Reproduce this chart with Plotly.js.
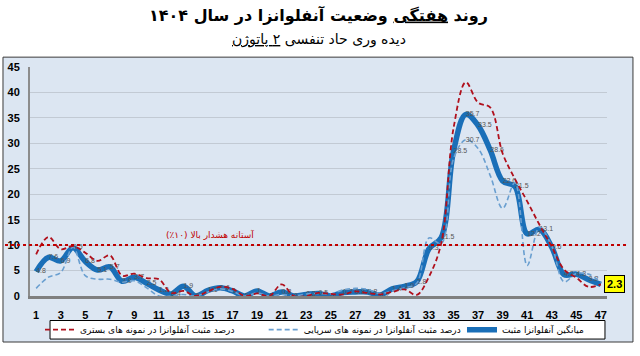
<!DOCTYPE html>
<html><head><meta charset="utf-8">
<script src="https://cdn.plot.ly/plotly-3.0.1.min.js"></script>
<style>html,body{margin:0;padding:0;background:#fff}#chart{width:640px;height:356px}</style>
</head><body><div id="chart"></div>
<script>
// Week numbers (categories)
const weeks = [1,2,3,4,5,6,7,8,9,10,11,12,13,14,15,16,17,18,19,20,21,22,23,24,25,26,27,28,29,30,31,32,33,34,35,36,37,38,39,40,41,42,43,44,45,46,47];
// Average influenza positivity (%)
const avgPositive = [4.8,7.6,6.9,9.5,6.8,5.1,5.7,2.9,3.7,2.5,1.2,0.4,1.9,0,1.1,1.6,1,0,1,0,0.8,0,0.3,0.5,0,0.7,0.8,0.8,0.2,1.4,1.9,2.8,9.3,11.5,28.5,35.7,33.5,28.6,22.6,21.5,12.2,13.1,9.6,4.2,4.3,3.2,2.3];
// Positivity in outpatient samples (%)
const outpatientPositive = [1.5,3.7,4.6,9.6,4.0,3.3,3.3,2.7,3.0,1.6,0,0,0.3,0,0.8,1.4,0.9,0,0.6,0,0.3,0,0.4,0.5,0.4,1.2,1.5,1.3,0.5,1.0,1.6,2.5,11.4,10.3,27,30.7,29,23.6,17.2,22.3,6.0,13.5,9.8,2.8,4.4,4.3,2.6];
// Positivity in inpatient (hospitalized) samples (%)
const inpatientPositive = [8.2,11.6,9.2,9.8,8.5,6.9,8.0,4.0,4.4,3.5,3.3,0.6,1.0,0,0.9,1.8,1.4,0,0.5,0,2.3,0,0,0.6,0.4,0.3,0.9,0.6,0.3,0.8,1.3,0.2,3.8,10.4,33,42,38,37,28,23,18.6,14,9.7,5.2,3.6,1.8,2.3];
const threshold = 10;
const xTickVals = [1,3,5,7,9,11,13,15,17,19,21,23,25,27,29,31,33,35,37,39,41,43,45,47];
const yTickVals = [0,5,10,15,20,25,30,35,40,45];
const seriesNames = ['میانگین آنفلوانزا مثبت','درصد مثبت آنفلوانزا در نمونه های سرپایی','درصد مثبت آنفلوانزا در نمونه های بستری'];
const labelledOutpatientWeeks = [36];
const titleText = '<b>روند <u>هفتگی</u> وضعیت آنفلوانزا در سال ۱۴۰۴</b>';
const subtitleText = 'دیده وری حاد تنفسی <u>۲ پاتوژن</u>';
const thresholdText = 'آستانه هشدار بالا (۱۰٪)\u200F';

const lastIdx = avgPositive.length - 1;
const avgLabels = avgPositive.map((v,i) => i === lastIdx ? '' : String(v));
const outLabels = outpatientPositive.map((v,i) => labelledOutpatientWeeks.includes(weeks[i]) ? String(v) : '');

const AR = 'DejaVu Sans';
const NUM = 'Liberation Sans';
const labelFont = {family: NUM, size: 7, color: '#555555'};

const traces = [
  {x: weeks, y: avgPositive, name: seriesNames[0], type: 'scatter', mode: 'lines+text',
   text: avgLabels, textposition: 'middle right', textfont: labelFont,
   line: {color: '#1a6fb8', width: 5.5, shape: 'spline', smoothing: 1},
   cliponaxis: false, legend: 'legend3', hoverinfo: 'skip'},
  {x: weeks, y: outpatientPositive, name: seriesNames[1], type: 'scatter', mode: 'lines+text',
   text: outLabels, textposition: 'middle right', textfont: labelFont,
   line: {color: '#6a9fd0', width: 1.6, dash: '5px,3px', shape: 'spline', smoothing: 1},
   cliponaxis: false, legend: 'legend2', hoverinfo: 'skip'},
  {x: weeks, y: inpatientPositive, name: seriesNames[2], type: 'scatter', mode: 'lines',
   line: {color: '#b0101c', width: 1.8, dash: '5px,3px', shape: 'spline', smoothing: 1},
   cliponaxis: false, legend: 'legend', hoverinfo: 'skip'}
];

const legendBase = {orientation: 'h', xanchor: 'left', yanchor: 'middle', y: -0.147,
  bgcolor: 'rgba(0,0,0,0)', borderwidth: 0, font: {family: AR, size: 9, color: '#000'}};

const layout = {
  width: 640, height: 356, autosize: false,
  margin: {l: 30, r: 33, t: 67, b: 55, pad: 0},
  paper_bgcolor: '#ffffff', plot_bgcolor: 'rgba(0,0,0,0)',
  title: {text: titleText, x: 0.5, xref: 'paper', xanchor: 'center', y: 0.958, yref: 'container', yanchor: 'middle',
          font: {family: AR, size: 16, color: '#000'}},
  xaxis: {range: [0.5, 47.5], tickvals: xTickVals, showgrid: false, zeroline: false,
          showline: true, linecolor: '#7f7f7f', linewidth: 3, ticks: '', ticklabelstandoff: 7,
          tickfont: {family: NUM, size: 11, color: '#000', weight: 'bold'}},
  yaxis: {range: [0, 45], tickvals: yTickVals, showgrid: true, gridcolor: '#c2cad4', gridwidth: 1,
          zeroline: false, showline: true, linecolor: '#8c8c8c', linewidth: 2, ticks: '', ticklabelstandoff: 6,
          tickfont: {family: NUM, size: 11, color: '#000', weight: 'bold'}},
  showlegend: true,
  legend: Object.assign({}, legendBase, {x: 0.0173}),
  legend2: Object.assign({}, legendBase, {x: 0.405}),
  legend3: Object.assign({}, legendBase, {x: 0.7487}),
  shapes: [
    {type: 'rect', xref: 'paper', yref: 'paper', x0: -0.0468, x1: 1.045, y0: -0.2009, y1: 1.043,
     fillcolor: '#dce6f2', line: {color: '#3a3a3a', width: 1}, layer: 'below'},
    {type: 'rect', xref: 'paper', yref: 'paper', x0: 0.0347, x1: 0.9965, y0: -0.188, y1: -0.107,
     fillcolor: '#ffffff', line: {color: '#000000', width: 1}, layer: 'below'},
    {type: 'line', xref: 'paper', yref: 'y', x0: -0.0433, x1: 1.036, y0: threshold, y1: threshold,
     line: {color: '#c00000', width: 2, dash: 'dot'}, layer: 'above'}
  ],
  annotations: [
    {text: subtitleText, xref: 'paper', yref: 'paper', x: 0.5, y: 1.118, xanchor: 'center', yanchor: 'middle',
     showarrow: false, font: {family: AR, size: 14, color: '#000'}},
    {text: thresholdText, xref: 'paper', yref: 'y', x: 0.312, y: threshold, yshift: 11, xanchor: 'center', yanchor: 'middle',
     showarrow: false, font: {family: AR, size: 9, color: '#c00000'}},
    {text: '<b>' + String(avgPositive[lastIdx]) + '</b>', xref: 'x', yref: 'y', x: weeks[lastIdx], y: avgPositive[lastIdx],
     xanchor: 'left', yanchor: 'middle', xshift: 3, showarrow: false, bgcolor: '#ffff00', bordercolor: '#000', borderwidth: 1, borderpad: 2,
     font: {family: NUM, size: 11, color: '#000'}}
  ]
};

Plotly.newPlot('chart', traces, layout, {displayModeBar: false, staticPlot: true});
</script>
</body></html>
